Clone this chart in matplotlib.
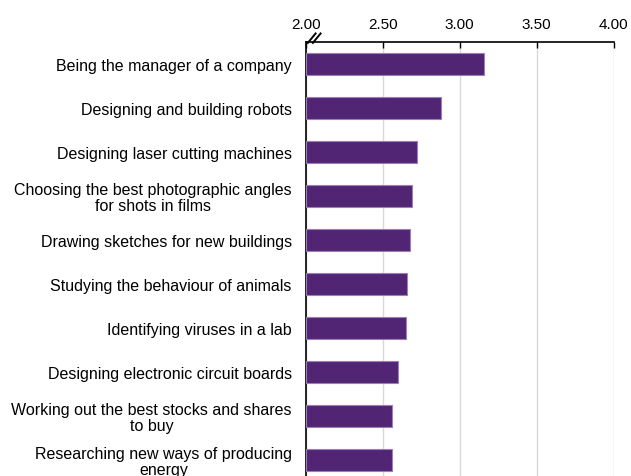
import matplotlib
matplotlib.use("Agg")
import matplotlib.pyplot as plt

plt.rcParams['font.family'] = ['Liberation Sans', 'DejaVu Sans']

activities = [
    "Being the manager of a company",
    "Designing and building robots",
    "Designing laser cutting machines",
    "Choosing the best photographic angles\nfor shots in films",
    "Drawing sketches for new buildings",
    "Studying the behaviour of animals",
    "Identifying viruses in a lab",
    "Designing electronic circuit boards",
    "Working out the best stocks and shares\nto buy",
    "Researching new ways of producing\nenergy",
]
scores = [3.16, 2.88, 2.72, 2.69, 2.68, 2.66, 2.65, 2.60, 2.56, 2.56]
xticks = [2.00, 2.50, 3.00, 3.50, 4.00]

fig = plt.figure(figsize=(6.31, 4.77), dpi=100)
ax = fig.add_axes([0.4845, -0.012, 0.488, 0.9225])

base = 2.0
pos = list(range(len(activities)))
ax.barh(pos, [s - base for s in scores], left=base, height=0.5,
        color='#522574', edgecolor='#9a7fb8', linewidth=0.8, zorder=3)

ax.set_ylim(len(activities) - 0.5, -0.5)
ax.set_yticks(pos)
ax.set_yticklabels(activities, fontsize=11.5, multialignment='center',
                   linespacing=1.05)
ax.tick_params(axis='y', length=0, pad=10)

ax.set_xlim(2.0, 4.0)
ax.set_xticks(xticks)
ax.set_xticklabels(["%.2f" % t for t in xticks], fontsize=11)
ax.xaxis.tick_top()
ax.tick_params(axis='x', direction='in', length=4, width=1, pad=8, color='black')
ax.grid(axis='x', color='#d9d9d9', linewidth=1, zorder=0)

for side in ['right', 'bottom']:
    ax.spines[side].set_visible(False)
for side in ['top', 'left']:
    ax.spines[side].set_linewidth(1.2)
    ax.spines[side].set_color('black')

# axis break marks "//" at the start of the value axis
w_px, h_px = 0.488 * 631, 0.9225 * 477
for x0 in [1.5, 6.5]:
    ax.plot([x0 / w_px, (x0 + 9) / w_px], [1 - 2 / h_px, 1 + 9 / h_px],
            transform=ax.transAxes, color='black', linewidth=1.4,
            solid_capstyle='butt', clip_on=False, zorder=5)

fig.savefig("out.png", dpi=100)
